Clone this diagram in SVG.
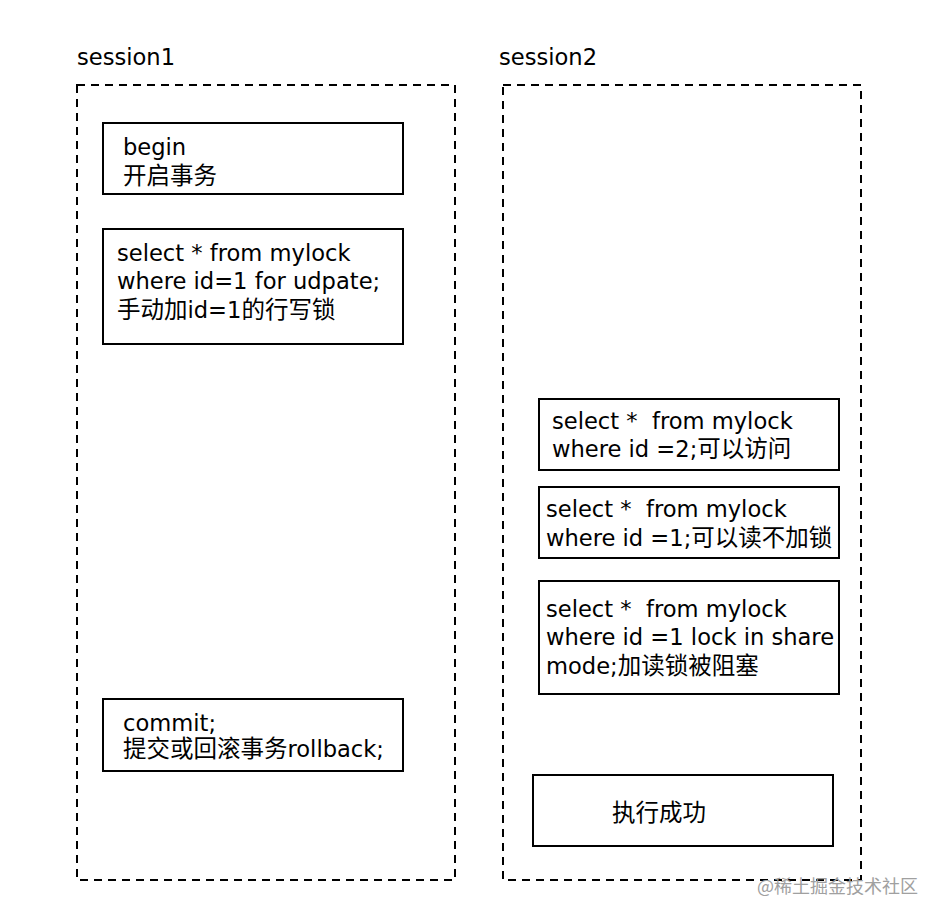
<svg xmlns="http://www.w3.org/2000/svg" width="942" height="922" viewBox="0 0 942 922">
<style>
text{font-family:"DejaVu Sans","Noto Sans CJK SC",sans-serif;font-size:22.6px;fill:#000;white-space:pre}
.c{font-family:"Noto Sans CJK SC",sans-serif;font-size:23.5px}
.box{fill:#fff;stroke:#000;stroke-width:2}
.sess{fill:none;stroke:#000;stroke-width:2;stroke-dasharray:8 6}
.wm{font-family:"Noto Sans CJK SC",sans-serif;font-size:18px;fill:#a0a0a0}
</style>
<rect width="942" height="922" fill="#fff"/>
<g id="session1">
<text x="77" y="65">session1</text>
<rect class="sess" x="77" y="85" width="378" height="795"/>
</g>
<g id="session2">
<text x="499" y="65">session2</text>
<rect class="sess" x="503" y="85" width="358" height="795"/>
</g>
<g id="begin">
<rect class="box" x="103" y="123" width="300" height="71"/>
<text x="123" y="155">begin</text>
<text x="123" y="184" class="c">开启事务</text>
</g>
<g id="forupdate">
<rect class="box" x="103" y="229" width="300" height="115"/>
<text x="117" y="261">select * from mylock</text>
<text x="117" y="289">where id=1 for udpate;</text>
<text x="117" y="318"><tspan class="c">手动加</tspan>id=1<tspan class="c">的行写锁</tspan></text>
</g>
<g id="commit">
<rect class="box" x="103" y="699" width="300" height="72"/>
<text x="123" y="731">commit;</text>
<text x="123" y="757"><tspan class="c">提交或回滚事务</tspan>rollback;</text>
</g>
<g id="q2">
<rect class="box" x="539" y="399" width="300" height="71"/>
<text x="552" y="429" xml:space="preserve">select *  from mylock</text>
<text x="552" y="457">where id =2;<tspan class="c">可以访问</tspan></text>
</g>
<g id="q1">
<rect class="box" x="539" y="487" width="300" height="71"/>
<text x="546" y="517" xml:space="preserve">select *  from mylock</text>
<text x="546" y="546">where id =1;<tspan class="c">可以读不加锁</tspan></text>
</g>
<g id="q3">
<rect class="box" x="539" y="581" width="300" height="113"/>
<text x="546" y="617" xml:space="preserve">select *  from mylock</text>
<text x="546" y="645">where id =1 lock in share</text>
<text x="546" y="674">mode;<tspan class="c">加读锁被阻塞</tspan></text>
</g>
<g id="success">
<rect class="box" x="533" y="775" width="300" height="71"/>
<text x="612" y="821" class="c">执行成功</text>
</g>
<g id="connectors"></g>
<text class="wm" x="757" y="893">@稀土掘金技术社区</text>
</svg>
